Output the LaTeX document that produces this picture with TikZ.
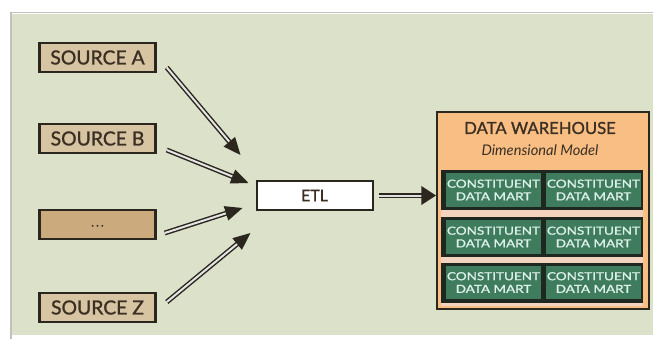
\documentclass[tikz,border=0pt]{standalone}
\usepackage{fontspec}
\usepackage{graphicx}
\setmainfont{Lato}
\newfontfamily\heavyfont[FakeBold=1.2]{Lato}
\usetikzlibrary{arrows.meta,positioning}
\definecolor{paneback}{HTML}{DCE1CA}
\definecolor{panerule}{HTML}{BFC2BD}
\definecolor{boxline}{HTML}{2C271E}
\definecolor{sourcefill}{HTML}{D7C4A2}
\definecolor{dotsfill}{HTML}{CBAB7E}
\definecolor{inktext}{HTML}{3A2F22}
\definecolor{dwfill}{HTML}{F8BE84}
\definecolor{gapfill}{HTML}{F3D2BE}
\definecolor{martfill}{HTML}{3F7B5D}
\definecolor{martline}{HTML}{1E2820}
\definecolor{marttext}{HTML}{DCF1E8}
\newcommand{\wideword}[1]{\scalebox{1.22}[1]{#1}}

\begin{document}
\begin{tikzpicture}[x=0.75pt,y=-0.75pt,line join=miter,>=stealth,
  srcbox/.style={draw=boxline,line width=1.9pt,fill=sourcefill,minimum width=87pt,minimum height=21.5pt,inner sep=0pt,text=inktext,font=\heavyfont\fontsize{14.5}{14.5}\selectfont},
  feed/.style={draw=boxline,line width=1.1pt,double=white!80!gray,double distance=1.5pt,-{Triangle[length=13pt,width=11pt]}},
  rowbox/.style={fill=martline,minimum width=151.5pt,minimum height=30pt,inner sep=0pt},
  martcell/.style={fill=martfill,minimum width=71pt,minimum height=25pt,inner sep=0pt,align=center,text=marttext,font=\heavyfont\fontsize{8.3}{9.5}\selectfont}]
  \useasboundingbox (0,0) rectangle (653,339);
  % panel
  \fill[paneback] (12,14) rectangle (653,335);
  \draw[panerule,line width=1.1pt] (11,339) -- (11,12.5) -- (653,12.5);

  % sources
  \node[srcbox] (srcA) at (97.5,57.5) {SOURCE A};
  \node[srcbox] (srcB) at (97.5,138.5) {SOURCE B};
  \node[srcbox,fill=dotsfill] (srcC) at (97.5,224.5) {\raisebox{-3pt}{\fontsize{9}{9}\selectfont .\,.\,.}};
  \node[srcbox] (srcZ) at (97.5,307.5) {SOURCE Z};

  \node[draw=boxline,line width=1.5pt,fill=white,minimum width=87pt,minimum height=22pt,text=inktext,font=\heavyfont\fontsize{12}{12}\selectfont] (etl) at (314.5,195.5) {ETL};

  \draw[feed] ([shift={(10,10)}]srcA.east) -- ([shift={(-15,-40.5)}]etl.west);
  \draw[feed] ([shift={(10,11.5)}]srcB.east) -- ([shift={(-7,-12.5)}]etl.west);
  \draw[feed] ([shift={(8,8.5)}]srcC.east) -- ([shift={(-13,12.5)}]etl.west);
  \draw[feed] ([shift={(10,-5.5)}]srcZ.east) -- ([shift={(-5,37.5)}]etl.west);

  % warehouse
  \node[draw=boxline,line width=1.5pt,fill=dwfill,minimum width=159pt,minimum height=148pt] (dw) at (543,210.5) {};
  \fill[gapfill] (441,208) rectangle (643,306);
  \node[text=inktext,font=\heavyfont\fontsize{12.5}{12.5}\selectfont] (dwtitle) at (540,128) {DATA WAREHOUSE};
  \node[below=1pt of dwtitle,text=inktext,font=\itshape\fontsize{11}{11}\selectfont] (dwsub) {Dimensional Model};
  \foreach \r/\y in {1/190,2/237,3/282.5}{
    \node[rowbox] (row\r) at (542,\y) {};
    \node[martcell] (m\r a) at (493.5,\y) {\wideword{CONSTITUENT}\\\wideword{DATA MART}};
    \node[martcell] (m\r b) at (593.5,\y) {\wideword{CONSTITUENT}\\\wideword{DATA MART}};
  }

  \draw[draw=boxline,line width=1.3pt,double=white!75!gray,double distance=1.5pt,-{Triangle[length=11pt,width=14pt]}] ([xshift=4pt]etl.east) -- (etl.east -| dw.west);
\end{tikzpicture}
\end{document}
